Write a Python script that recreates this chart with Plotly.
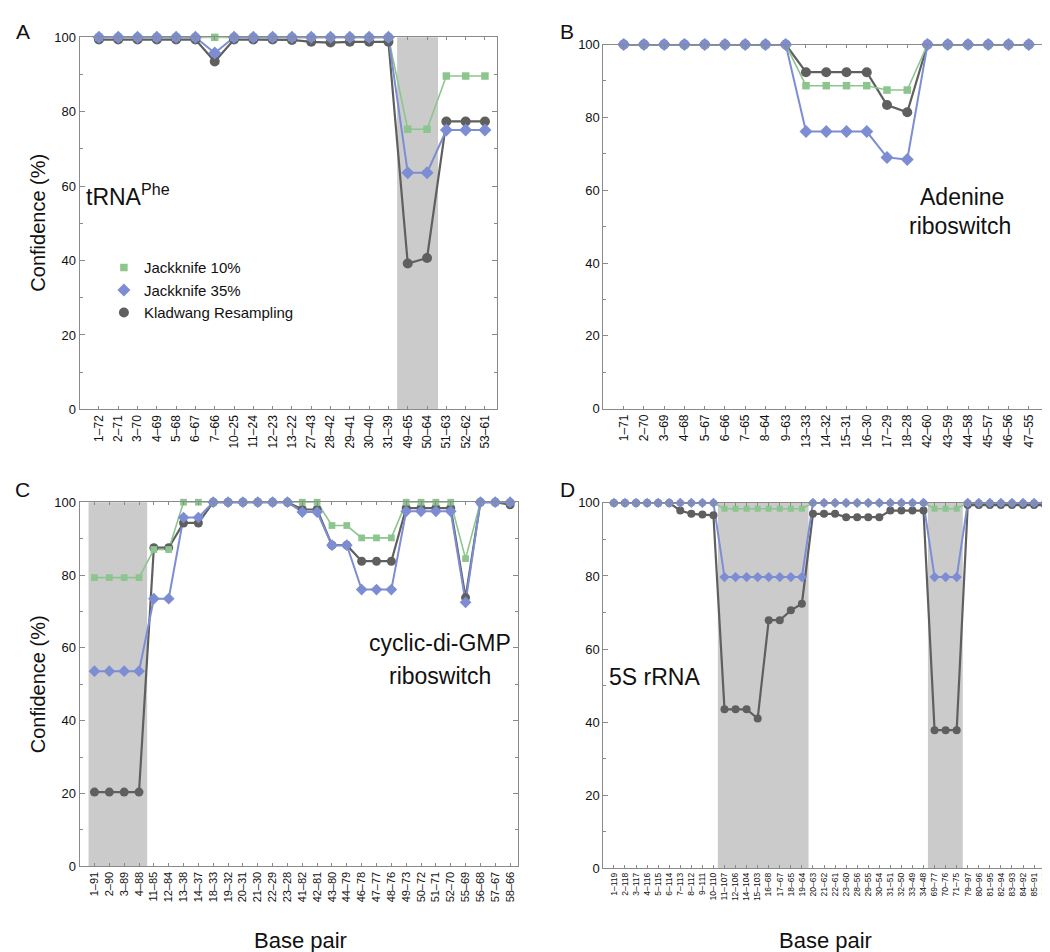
import plotly.graph_objects as go

# ---------------- data ----------------
a_cats = ["1–72", "2–71", "3–70", "4–69", "5–68", "6–67", "7–66", "10–25", "11–24", "12–23", "13–22",
          "27–43", "28–42", "29–41", "30–40", "31–39", "49–65", "50–64", "51–63", "52–62", "53–61"]
a_jk10 = [100, 100, 100, 100, 100, 100, 100, 100, 100, 100, 100, 100, 100, 100, 100, 100, 75.3, 75.3, 89.6, 89.6, 89.6]
a_jk35 = [100, 100, 100, 100, 100, 100, 95.8, 100, 100, 100, 100, 100, 100, 100, 100, 100, 63.6, 63.6, 75.1, 75.1, 75.1]
a_kw = [99.4, 99.4, 99.4, 99.4, 99.4, 99.4, 93.5, 99.4, 99.4, 99.4, 99.3, 98.8, 98.6, 98.8, 98.8, 98.8, 39.2, 40.7, 77.4, 77.4, 77.4]

b_cats = ["1–71", "2–70", "3–69", "4–68", "5–67", "6–66", "7–65", "8–64", "9–63", "13–33", "14–32", "15–31",
          "16–30", "17–29", "18–28", "42–60", "43–59", "44–58", "45–57", "46–56", "47–55"]
b_jk10 = [100, 100, 100, 100, 100, 100, 100, 100, 100, 88.7, 88.7, 88.7, 88.7, 87.5, 87.5, 100, 100, 100, 100, 100, 100]
b_jk35 = [100, 100, 100, 100, 100, 100, 100, 100, 100, 76.1, 76.1, 76.1, 76.1, 69.0, 68.4, 100, 100, 100, 100, 100, 100]
b_kw = [100, 100, 100, 100, 100, 100, 100, 100, 100, 92.4, 92.4, 92.4, 92.4, 83.4, 81.4, 100, 100, 100, 100, 100, 100]

c_cats = ["1–91", "2–90", "3–89", "4–88", "11–85", "12–84", "13–38", "14–37", "18–33", "19–32", "20–31", "21–30",
          "22–29", "23–28", "41–82", "42–81", "43–80", "44–79", "46–78", "47–77", "48–76", "49–73", "50–72",
          "51–71", "52–70", "55–69", "56–68", "57–67", "58–66"]
c_jk10 = [79.3, 79.3, 79.3, 79.3, 87.0, 87.0, 100, 100, 100, 100, 100, 100, 100, 100, 100, 100, 93.6, 93.6,
          90.2, 90.2, 90.2, 100, 100, 100, 100, 84.5, 100, 100, 100]
c_jk35 = [53.6, 53.6, 53.6, 53.6, 73.5, 73.5, 95.8, 95.8, 100, 100, 100, 100, 100, 100, 97.3, 97.3, 88.2, 88.2,
          76.0, 76.0, 76.0, 97.5, 97.5, 97.5, 97.5, 72.5, 100, 100, 100]
c_kw = [20.4, 20.4, 20.4, 20.4, 87.5, 87.5, 94.3, 94.3, 100, 100, 100, 100, 100, 100, 98.0, 98.0, 88.2, 88.2,
        83.8, 83.8, 83.8, 98.4, 98.4, 98.4, 98.4, 73.8, 100, 100, 99.3]

d_cats = ["1–119", "2–118", "3–117", "4–116", "5–115", "6–114", "7–113", "8–112", "9–111", "10–110", "11–107",
          "12–106", "14–104", "15–103", "16–68", "17–67", "18–65", "19–64", "20–63", "21–62", "22–61", "23–60",
          "28–56", "29–55", "30–54", "31–51", "32–50", "33–49", "34–48", "69–77", "70–76", "71–75", "79–97",
          "80–96", "81–95", "82–94", "83–93", "84–92", "85–91", "86–90"]
d_jk10 = [100, 100, 100, 100, 100, 100, 100, 100, 100, 100, 98.4, 98.4, 98.4, 98.4, 98.4, 98.4, 98.4, 98.4,
          100, 100, 100, 100, 100, 100, 100, 100, 100, 100, 100, 98.4, 98.4, 98.4, 100, 100, 100, 100, 100, 100, 100, 100]
d_jk35 = [100, 100, 100, 100, 100, 100, 100, 100, 100, 100, 79.7, 79.7, 79.7, 79.7, 79.7, 79.7, 79.7, 79.7,
          100, 100, 100, 100, 100, 100, 100, 100, 100, 100, 100, 79.7, 79.7, 79.7, 100, 100, 100, 100, 100, 100, 100, 100]
d_kw = [100, 100, 100, 100, 100, 100, 97.9, 97.0, 96.8, 96.6, 43.5, 43.5, 43.5, 41.0, 67.9, 67.9, 70.6, 72.4,
        97.0, 97.0, 97.0, 96.1, 96.1, 96.1, 96.1, 97.9, 97.9, 97.9, 97.9, 37.8, 37.8, 37.8, 99.4, 99.4, 99.4,
        99.4, 99.4, 99.4, 99.4, 99.4]

series_names = ["Jackknife 10%", "Jackknife 35%", "Kladwang Resampling"]

# shaded regions per panel (category index spans)
a_bands = [(15.45, 17.57)]
b_bands = []
c_bands = [(-0.4, 3.55)]
d_bands = [(9.4, 17.6), (28.4, 31.55)]

# ---------------- style ----------------
W, H = 1050, 952
GREEN = "#8cc68e"
BLUE = "#7c8dd3"
GRAY = "#5f5f5f"
FONT = "Liberation Sans, Arial, sans-serif"
AXC = "#8a8a8a"

def px_dom_x(x0, x1):
    return [x0 / W, x1 / W]

def px_dom_y(top, bottom):
    return [1 - bottom / H, 1 - top / H]

panels = [
    dict(cats=a_cats, jk10=a_jk10, jk35=a_jk35, kw=a_kw, bands=a_bands,
         xd=px_dom_x(71.7, 489), yd=px_dom_y(22.7, 400.7), xr=[-1, 20.6], tf=12, ms=1.0, legend=True),
    dict(cats=b_cats, jk10=b_jk10, jk35=b_jk35, kw=b_kw, bands=b_bands,
         xd=px_dom_x(596, 1040), yd=px_dom_y(30, 400), xr=[-1, 20.9], tf=12, ms=1.0, legend=False),
    dict(cats=c_cats, jk10=c_jk10, jk35=c_jk35, kw=c_kw, bands=c_bands,
         xd=px_dom_x(71.7, 510), yd=px_dom_y(495, 865), xr=[-1, 28.5], tf=11, ms=0.9, legend=False),
    dict(cats=d_cats, jk10=d_jk10, jk35=d_jk35, kw=d_kw, bands=d_bands,
         xd=px_dom_x(596, 1042), yd=px_dom_y(495.7, 867), xr=[-0.95, 39.35], tf=8.5, ms=0.8, legend=False),
]

fig = go.Figure()
shapes = []
layout = {}

for i, p in enumerate(panels):
    k = "" if i == 0 else str(i + 1)
    xa, ya = "x" + k, "y" + k
    # order: gray, green, blue (blue on top)
    specs = [
        (p["kw"], GRAY, "circle", 10, 2.2, series_names[2], 3),
        (p["jk10"], GREEN, "square", 7.5, 1.6, series_names[0], 1),
        (p["jk35"], BLUE, "diamond", 10, 2.0, series_names[1], 2),
    ]
    for vals, col, sym, msz, lw, name, rank in specs:
        fig.add_trace(go.Scatter(x=p["cats"], y=vals, mode="lines", line=dict(color=col, width=lw),
                                 xaxis=xa, yaxis=ya, showlegend=False, hoverinfo="skip", cliponaxis=False))
    for vals, col, sym, msz, lw, name, rank in specs:
        fig.add_trace(go.Scatter(x=p["cats"], y=vals, mode="markers", name=name,
                                 marker=dict(color=col, symbol=sym, size=msz * p["ms"], line=dict(width=0)),
                                 xaxis=xa, yaxis=ya, showlegend=p["legend"], legendrank=rank, cliponaxis=False))
    for (b0, b1) in p["bands"]:
        shapes.append(dict(type="rect", xref=xa, yref=ya + " domain", x0=b0, x1=b1, y0=0, y1=1,
                           fillcolor="#cbcbcb", line=dict(width=0), layer="below"))
    layout["xaxis" + k] = dict(domain=p["xd"], anchor=ya, type="category", range=p["xr"],
                               categoryorder="array", categoryarray=p["cats"],
                               showline=True, linecolor=AXC, linewidth=1, mirror="ticks",
                               ticks="inside", ticklen=3, tickcolor=AXC, tickangle=-90,
                               tickfont=dict(family=FONT, size=p["tf"], color="#111"),
                               showgrid=False, zeroline=False, fixedrange=True)
    layout["yaxis" + k] = dict(domain=p["yd"], anchor=xa, range=[0, 100],
                               tickvals=[0, 20, 40, 60, 80, 100],
                               showline=True, linecolor=AXC, linewidth=1, mirror="ticks",
                               ticks="inside", ticklen=5, tickcolor=AXC,
                               minor=dict(dtick=10, ticks="inside", ticklen=3, tickcolor=AXC),
                               tickfont=dict(family=FONT, size=13, color="#111"),
                               showgrid=False, zeroline=False, fixedrange=True)

ann = []
def txt(x, y, s, size, xanchor="center", yanchor="middle", angle=0):
    ann.append(dict(x=x / W, y=1 - y / H, xref="paper", yref="paper", text=s, showarrow=False,
                    font=dict(family=FONT, size=size, color="#111"), xanchor=xanchor, yanchor=yanchor,
                    textangle=angle))

txt(15, 17, "A", 21)
txt(560, 17, "B", 21)
txt(15, 482, "C", 21)
txt(560, 482, "D", 21)
txt(30, 211, "Confidence (%)", 20, angle=-90)
txt(30, 680, "Confidence (%)", 20, angle=-90)
txt(293, 940, "Base pair", 22)
txt(818, 940, "Base pair", 22)
txt(76, 183, "tRNA<sup>Phe</sup>", 23, xanchor="left")
txt(955, 185, "Adenine", 23)
txt(953, 214, "riboswitch", 23)
txt(432, 638, "cyclic-di-GMP", 23)
txt(432, 672, "riboswitch", 23)
txt(600, 673, "5S rRNA", 23, xanchor="left")

fig.update_layout(
    width=W, height=H, margin=dict(l=0, r=0, t=0, b=0),
    paper_bgcolor="white", plot_bgcolor="white",
    shapes=shapes, annotations=ann,
    legend=dict(x=96 / W, y=1 - 240 / H, xanchor="left", yanchor="top",
                font=dict(family=FONT, size=15, color="#111"), bgcolor="rgba(0,0,0,0)",
                itemwidth=30, tracegroupgap=0),
    **layout,
)

fig.write_html("out.html")
